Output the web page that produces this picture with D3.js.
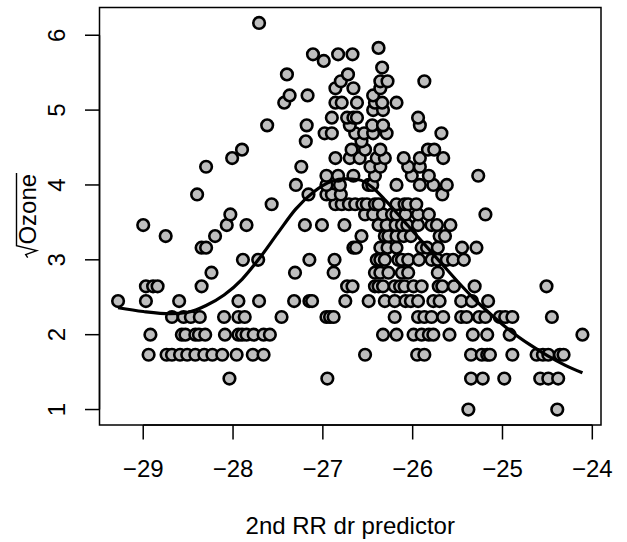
<!DOCTYPE html>
<html>
<head>
<meta charset="utf-8">
<script src="https://cdn.jsdelivr.net/npm/d3@7"></script>
<style>
  body { margin: 0; background: #fff; }
  svg { display: block; font-family: "Liberation Sans", Arial, Helvetica, sans-serif; }
</style>
</head>
<body>
<div id="chart"></div>
<script>
const sqrtOzone = [1, 1.414, 1.732, 2, 2.236, 2.449, 2.646, 2.828, 3, 3.162, 3.317, 3.464,
  3.606, 3.742, 3.873, 4, 4.123, 4.243, 4.359, 4.472, 4.583, 4.69, 4.796, 4.899, 5,
  5.099, 5.196, 5.292, 5.385, 5.477, 5.568, 5.657, 5.745, 5.831, 6.164];

const predictor = [
  [-25.38, -24.39],
  [-28.04, -26.95, -25.35, -25.22, -24.98, -24.58, -24.49, -24.38],
  [-28.94, -28.74, -28.68, -28.59, -28.51, -28.42, -28.32, -28.23, -28.12, -27.96, -27.78, -27.66,
    -26.53, -25.95, -25.87, -25.35, -25.23, -25.17, -25.14, -24.89, -24.62, -24.55, -24.49, -24.36, -24.32],
  [-28.92, -28.57, -28.53, -28.42, -28.38, -28.31, -28.09, -27.94, -27.9, -27.85, -27.77, -27.66, -27.59,
    -26.33, -26.18, -25.99, -25.9, -25.82, -25.77, -25.59, -25.33, -25.17, -24.92, -24.11],
  [-28.68, -28.55, -28.47, -28.37, -28.1, -27.94, -27.87, -27.46, -26.96, -26.92, -26.88, -26.2,
    -25.94, -25.87, -25.79, -25.66, -25.46, -25.4, -25.26, -25.19, -25.03, -24.97, -24.89, -24.45],
  [-29.28, -28.97, -28.6, -27.94, -27.71, -27.32, -27.15, -27.12, -26.75, -26.49, -26.31, -26.2,
    -26.08, -26.02, -25.94, -25.77, -25.7, -25.46, -25.34, -25.16],
  [-28.97, -28.89, -28.84, -28.35, -26.73, -26.67, -26.42, -26.38, -26.33, -26.2, -26.14, -26.09,
    -25.99, -25.9, -25.71, -25.67, -25.54, -25.31, -24.51],
  [-28.24, -27.31, -26.88, -26.42, -26.36, -26.27, -26.12, -26.05, -25.72],
  [-27.89, -27.72, -27.15, -26.87, -26.4, -26.36, -26.31, -26.16, -26.12, -26.05, -25.93, -25.79,
    -25.72, -25.62, -25.55, -25.43],
  [-28.35, -28.3, -26.66, -26.63, -26.36, -26.28, -26.18, -25.9, -25.84, -25.72, -25.45, -25.29],
  [-28.75, -28.2, -26.57, -26.31, -26.27, -26.18, -26.1, -26.02, -25.7, -25.64],
  [-29.0, -28.07, -27.85, -27.2, -27.01, -26.76, -26.38, -26.29, -26.19, -26.12, -26.06, -25.94,
    -25.79, -25.73, -25.58],
  [-28.03, -26.53, -26.44, -26.33, -26.23, -26.18, -26.08, -25.94, -25.82, -25.19],
  [-27.57, -26.86, -26.79, -26.71, -26.64, -26.56, -26.51, -26.42, -26.38, -26.18, -26.09, -26.05, -25.96],
  [-28.4, -27.16, -26.96, -26.9, -26.8, -25.67],
  [-27.3, -26.96, -26.81, -26.49, -26.45, -26.18, -25.92, -25.77, -25.62],
  [-26.96, -26.83, -26.66, -26.42, -26.01, -25.82, -25.27],
  [-28.3, -27.24, -26.47, -26.36, -26.05, -25.92],
  [-28.01, -26.86, -26.7, -26.59, -26.4, -26.31, -26.1, -25.92, -25.66],
  [-27.9, -26.68, -26.53, -26.36, -25.83, -25.76],
  [-27.19, -26.57],
  [-26.98, -26.9, -26.64, -26.54, -26.44, -26.29, -25.68],
  [-27.62, -27.18, -26.7, -26.45, -26.33, -25.92],
  [-26.9, -26.73, -26.66, -26.62, -25.94],
  [-26.44, -26.33],
  [-27.43, -26.86, -26.79, -26.62, -26.42, -26.34, -26.18],
  [-27.37, -27.17, -26.44],
  [-26.86, -26.66, -26.36],
  [-26.8, -26.36, -26.28, -25.87],
  [-27.4, -26.72],
  [-26.34],
  [-26.99],
  [-27.11, -26.83, -26.67],
  [-26.38],
  [-27.71]
];

// smooth curve
const smoothX = [-29.28, -29.0, -28.7, -28.5, -28.3, -28.1, -27.9, -27.7, -27.5, -27.3, -27.1, -26.9,
  -26.75, -26.6, -26.45, -26.3, -26.1, -25.9, -25.7, -25.5, -25.3, -25.1, -24.9, -24.7, -24.5, -24.3, -24.11];
const smoothY = [2.36, 2.31, 2.28, 2.3, 2.39, 2.53, 2.74, 3.03, 3.36, 3.68, 3.91, 4.05,
  4.08, 4.07, 3.97, 3.79, 3.52, 3.25, 2.98, 2.71, 2.46, 2.24, 2.04, 1.87, 1.72, 1.59, 1.49];

const xTicks = [-29, -28, -27, -26, -25, -24];
const yTicks = [1, 2, 3, 4, 5, 6];
const xLabel = "2nd RR dr predictor";
const yLabel = "Ozone";

const W = 627, H = 542;
const margin = { top: 7.5, right: 26, bottom: 117, left: 99.5 };
const lineH = 29;
const fontSize = 24;

const points = sqrtOzone.flatMap((v, i) => predictor[i].map(x => ({ x: x, y: v })));

// R style 4% padding on both axes
const pad = ext => {
  const d = (ext[1] - ext[0]) * 0.04;
  return [ext[0] - d, ext[1] + d];
};

const xScale = d3
  .scaleLinear()
  .domain(pad(d3.extent(points, d => d.x)))
  .range([margin.left, W - margin.right]);

const yScale = d3
  .scaleLinear()
  .domain(pad(d3.extent(points, d => d.y)))
  .range([H - margin.bottom, margin.top]);

const svg = d3
  .select("#chart")
  .append("svg")
  .attr("width", W)
  .attr("height", H);

// points
svg.append("g")
  .selectAll("circle")
  .data(points)
  .enter()
  .append("circle")
  .attr("cx", d => xScale(d.x))
  .attr("cy", d => yScale(d.y))
  .attr("r", 5.8)
  .attr("fill", "#bebebe")
  .attr("stroke", "#000")
  .attr("stroke-width", 2.6);

// smooth line
const line = d3
  .line()
  .x(d => xScale(d[0]))
  .y(d => yScale(d[1]))
  .curve(d3.curveMonotoneX);

svg.append("path")
  .datum(smoothX.map((x, i) => [x, smoothY[i]]))
  .attr("d", line)
  .attr("fill", "none")
  .attr("stroke", "#000")
  .attr("stroke-width", 3.2)
  .attr("stroke-linejoin", "round");

// box
svg.append("rect")
  .attr("x", margin.left)
  .attr("y", margin.top)
  .attr("width", W - margin.left - margin.right)
  .attr("height", H - margin.top - margin.bottom)
  .attr("fill", "none")
  .attr("stroke", "#000")
  .attr("stroke-width", 1.5);

// x axis
const y0 = H - margin.bottom;
const xAxis = svg.append("g");
xAxis.append("line")
  .attr("x1", xScale(xTicks[0]))
  .attr("x2", xScale(xTicks[xTicks.length - 1]))
  .attr("y1", y0)
  .attr("y2", y0)
  .attr("stroke", "#000")
  .attr("stroke-width", 1.5);
xAxis.selectAll(".tick")
  .data(xTicks)
  .enter()
  .append("line")
  .attr("x1", d => xScale(d))
  .attr("x2", d => xScale(d))
  .attr("y1", y0)
  .attr("y2", y0 + lineH * 0.5)
  .attr("stroke", "#000")
  .attr("stroke-width", 1.5);
xAxis.selectAll("text")
  .data(xTicks)
  .enter()
  .append("text")
  .attr("x", d => xScale(d))
  .attr("y", y0 + lineH * 1.8)
  .attr("text-anchor", "middle")
  .attr("font-size", fontSize)
  .text(d => d3.format("d")(d).replace("-", "\u2212"));

svg.append("text")
  .attr("x", (margin.left + W - margin.right) / 2)
  .attr("y", y0 + lineH * 3.75)
  .attr("text-anchor", "middle")
  .attr("font-size", fontSize)
  .text(xLabel);

// y axis
const x0 = margin.left;
const yAxis = svg.append("g");
yAxis.append("line")
  .attr("x1", x0)
  .attr("x2", x0)
  .attr("y1", yScale(yTicks[0]))
  .attr("y2", yScale(yTicks[yTicks.length - 1]))
  .attr("stroke", "#000")
  .attr("stroke-width", 1.5);
yAxis.selectAll(".tick")
  .data(yTicks)
  .enter()
  .append("line")
  .attr("x1", x0)
  .attr("x2", x0 - lineH * 0.5)
  .attr("y1", d => yScale(d))
  .attr("y2", d => yScale(d))
  .attr("stroke", "#000")
  .attr("stroke-width", 1.5);
yAxis.selectAll("text")
  .data(yTicks)
  .enter()
  .append("text")
  .attr("transform", d => "translate(" + (x0 - lineH * 1.2) + "," + yScale(d) + ") rotate(-90)")
  .attr("text-anchor", "middle")
  .attr("font-size", fontSize)
  .text(d => d);

// y title with radical sign
const yMid = (margin.top + H - margin.bottom) / 2;
const gTitle = svg.append("g")
  .attr("transform", "translate(" + (x0 - lineH * 2.2) + "," + yMid + ") rotate(-90)");
const title = gTitle.append("text")
  .attr("font-size", fontSize)
  .text(yLabel);
const tw = title.node().getComputedTextLength();
const rw = 14;
const start = -(tw + rw) / 2;
title.attr("x", start + rw);
const radTop = -fontSize * 0.8;
gTitle.append("path")
  .attr("d", "M" + (start + 1) + "," + (-8) +
    "L" + (start + 4) + "," + (-10) +
    "L" + (start + 8) + "," + 1 +
    "L" + (start + 13) + "," + radTop +
    "L" + (start + rw + tw + 1) + "," + radTop)
  .attr("fill", "none")
  .attr("stroke", "#000")
  .attr("stroke-width", 1.4);
</script>
</body>
</html>
